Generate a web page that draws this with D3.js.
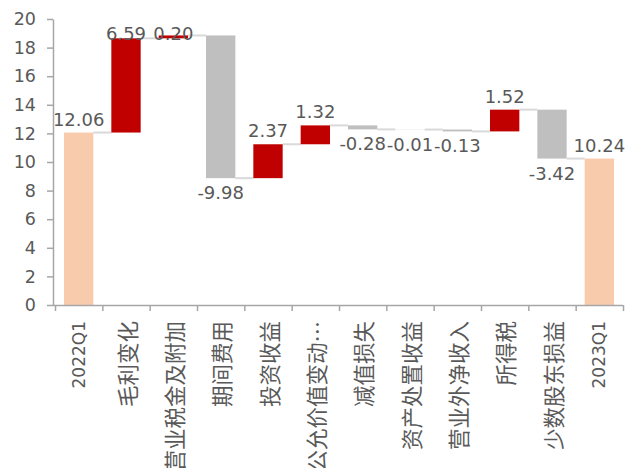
<!DOCTYPE html>
<html>
<head>
<meta charset="utf-8">
<script src="https://cdn.jsdelivr.net/npm/d3@7"></script>
<style>
  body { margin: 0; background: #fff; }
  svg { display: block; }
</style>
</head>
<body>
<div id="chart"></div>
<script>
// Data
const categories = ["2022Q1", "毛利变化", "营业税金及附加", "期间费用", "投资收益", "公允价值变动…",
                    "减值损失", "资产处置收益", "营业外净收入", "所得税", "少数股东损益", "2023Q1"];
const values = [12.06, 6.59, 0.20, -9.98, 2.37, 1.32, -0.28, -0.01, -0.13, 1.52, -3.42, 10.24];
const isTotal = [true, false, false, false, false, false, false, false, false, false, false, true];
const yTicks = [0, 2, 4, 6, 8, 10, 12, 14, 16, 18, 20];

const width = 628, height = 468;
const margin = { left: 53, right: 5, top: 19, bottom: 163 };

const svg = d3.select("#chart")
    .append("svg")
    .attr("width", width)
    .attr("height", height);

// Build running totals for the waterfall
let running = 0;
const bars = values.map((v, i) => {
    let start, end;
    if (isTotal[i]) {
        start = 0; end = v;
    } else {
        start = running; end = running + v;
    }
    running = end;
    return { name: categories[i], value: v, start, end, total: isTotal[i], i };
});

const x = d3.scaleBand()
    .domain(d3.range(categories.length))
    .range([margin.left + 2, width - margin.right])
    .paddingInner(0.38)
    .paddingOuter(0.19);

// boundaries between categories for the axis ticks
const xEdge = d3.scaleLinear()
    .domain([0, categories.length])
    .range([margin.left + 2, width - margin.right]);

const y = d3.scaleLinear()
    .domain([0, 20])
    .range([height - margin.bottom, margin.top]);

const axisColor = "#a6a6a6";
const textColor = "#595959";

// Connector lines
svg.append("g")
    .selectAll("line")
    .data(bars.slice(0, -1))
    .join("line")
    .attr("x1", d => x(d.i) + x.bandwidth())
    .attr("x2", d => x(d.i + 1))
    .attr("y1", d => y(d.end))
    .attr("y2", d => y(d.end))
    .attr("stroke", "#d9d9d9")
    .attr("stroke-width", 2);

// Bars
svg.append("g")
    .selectAll("rect")
    .data(bars)
    .join("rect")
    .attr("x", d => x(d.i))
    .attr("width", x.bandwidth())
    .attr("y", d => y(Math.max(d.start, d.end)))
    .attr("height", d => Math.abs(y(d.start) - y(d.end)))
    .attr("fill", d => d.total ? "#f8cbad" : (d.value >= 0 ? "#c00000" : "#bfbfbf"));

// Y axis
const yAxis = svg.append("g")
    .attr("transform", `translate(${margin.left},0)`)
    .call(d3.axisLeft(y).tickValues(yTicks).tickSize(6).tickSizeOuter(0).tickPadding(11));
yAxis.select(".domain").attr("stroke", axisColor).attr("stroke-width", 1.5);
yAxis.selectAll(".tick line").attr("stroke", axisColor).attr("stroke-width", 1.5);
yAxis.selectAll(".tick text")
    .attr("fill", textColor)
    .style("font-family", "'DejaVu Sans', sans-serif")
    .style("font-size", "17.5px");

// X axis (ticks between categories)
const xAxis = svg.append("g")
    .attr("transform", `translate(0,${y(0)})`)
    .call(d3.axisBottom(xEdge).tickValues(d3.range(categories.length + 1)).tickFormat("").tickSize(6).tickSizeOuter(0));
xAxis.select(".domain").attr("stroke", axisColor).attr("stroke-width", 1.5)
    .attr("d", `M${margin.left},0.5H${width - margin.right}`);
xAxis.selectAll(".tick line").attr("stroke", axisColor).attr("stroke-width", 1.5);

// Category labels, rotated
const latin = s => /^[0-9A-Z]/.test(s);
svg.append("g")
    .selectAll("text")
    .data(bars)
    .join("text")
    .attr("transform", d => `translate(${x(d.i) + x.bandwidth() / 2},321) rotate(-90)`)
    .attr("text-anchor", "end")
    .attr("dominant-baseline", "central")
    .attr("fill", textColor)
    .style("font-family", d => latin(d.name) ? "'DejaVu Sans', sans-serif" : "'Noto Sans CJK SC', sans-serif")
    .style("font-size", d => latin(d.name) ? "17px" : "21.5px")
    .text(d => d.name);

// Data labels
svg.append("g")
    .selectAll("text")
    .data(bars)
    .join("text")
    .attr("x", d => x(d.i) + x.bandwidth() / 2)
    .attr("y", d => {
        if (d.value >= 0) return Math.max(y(Math.max(d.start, d.end)) - 7, 40);
        return y(Math.min(d.start, d.end)) + 21;
    })
    .attr("text-anchor", "middle")
    .attr("fill", textColor)
    .style("font-family", "'DejaVu Sans', sans-serif")
    .style("font-size", "18px")
    .text(d => d.value.toFixed(2));
</script>
</body>
</html>
